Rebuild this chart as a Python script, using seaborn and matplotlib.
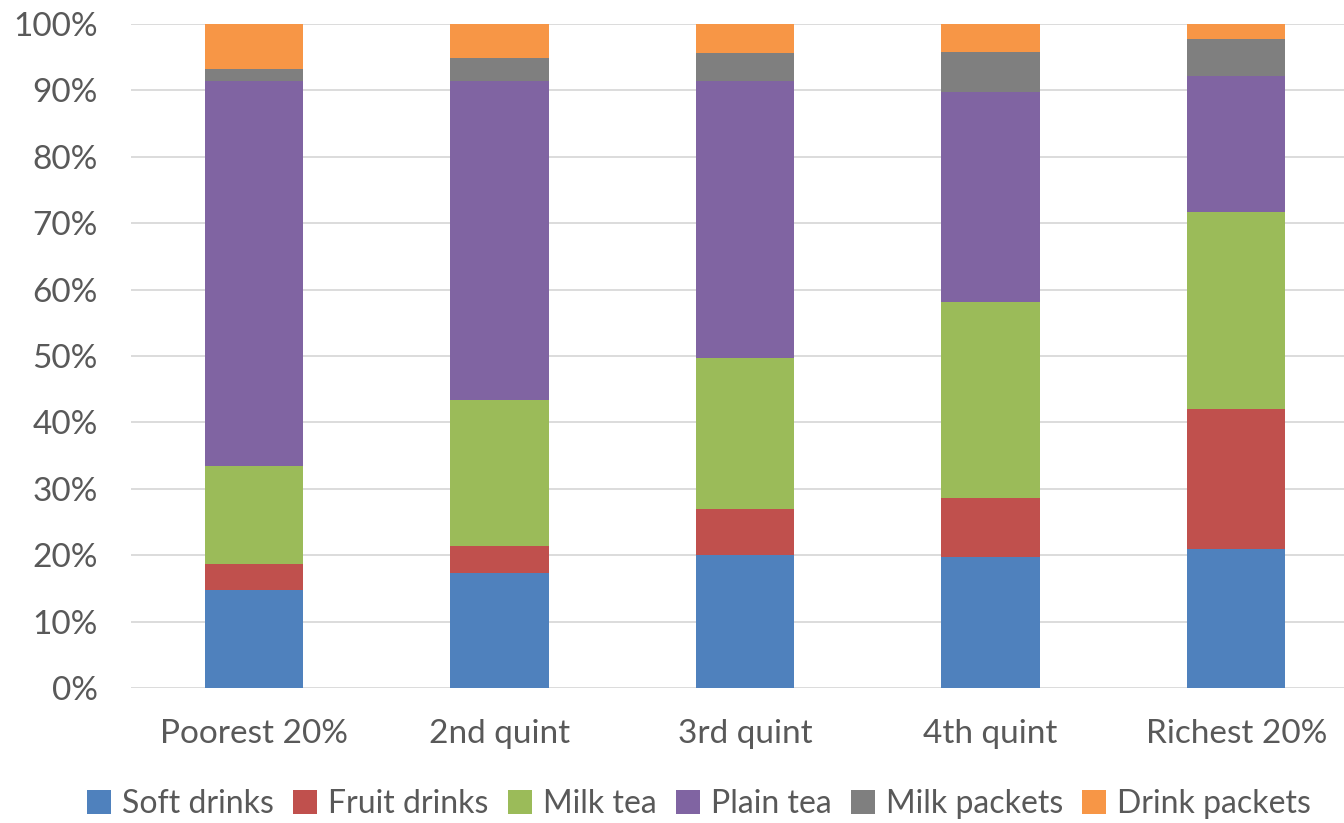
import numpy as np
import pandas as pd
import matplotlib
matplotlib.use("Agg")
import matplotlib.pyplot as plt
from matplotlib.patches import Patch
import seaborn as sns

categories = ["Poorest 20%", "2nd quint", "3rd quint", "4th quint", "Richest 20%"]
series_names = ["Soft drinks", "Fruit drinks", "Milk tea", "Plain tea", "Milk packets", "Drink packets"]
soft_drinks = [14.7, 17.3, 20.0, 19.8, 20.9]
fruit_drinks = [3.9, 4.1, 6.9, 8.8, 21.1]
milk_tea = [14.8, 21.9, 22.8, 29.5, 29.7]
plain_tea = [58.0, 48.1, 41.7, 31.6, 20.4]
milk_packets = [1.8, 3.5, 4.3, 6.1, 5.6]
drink_packets = [6.8, 5.1, 4.3, 4.2, 2.3]
colors = ["#4F81BD", "#C0504D", "#9BBB59", "#8064A2", "#7F7F7F", "#F79646"]

sns.set_theme(style="white")
plt.rcParams["font.family"] = ["Lato", "DejaVu Sans"]

values = [soft_drinks, fruit_drinks, milk_tea, plain_tea, milk_packets, drink_packets]
cum = np.cumsum(np.array(values, dtype=float), axis=0)

fig = plt.figure(figsize=(13.44, 8.23), dpi=100)
ax = fig.add_axes([131 / 1344, 1 - 688 / 823, (1359 - 131) / 1344, (688 - 24) / 823])

for i in range(len(series_names) - 1, -1, -1):
    df = pd.DataFrame({"category": categories, "value": cum[i]})
    sns.barplot(data=df, x="category", y="value", color=colors[i], width=0.4,
                saturation=1, ax=ax, edgecolor="none", linewidth=0, zorder=3)

ax.set_ylim(0, 100)
ax.set_xlim(-0.5, 4.5)
ax.set_yticks(np.arange(0, 101, 10))
ax.set_yticklabels([f"{v}%" for v in range(0, 101, 10)])
ax.yaxis.grid(True, color="#D9D9D9", linewidth=1.3, zorder=0)
ax.set_axisbelow(True)
for s in ax.spines.values():
    s.set_visible(False)
ax.set_xlabel("")
ax.set_ylabel("")
ax.tick_params(axis="both", length=0, labelsize=24, labelcolor="#595959")
ax.tick_params(axis="y", pad=24)
ax.tick_params(axis="x", pad=22)

handles = [Patch(facecolor=c, edgecolor="none") for c in colors]
fig.legend(handles, series_names, loc="center", bbox_to_anchor=(699 / 1344, 1 - 804 / 823),
           ncol=6, frameon=False, fontsize=23, labelcolor="#595959",
           handlelength=0.75, handleheight=0.75, handletextpad=0.35, columnspacing=0.6)

fig.savefig("out.png", dpi=100)
